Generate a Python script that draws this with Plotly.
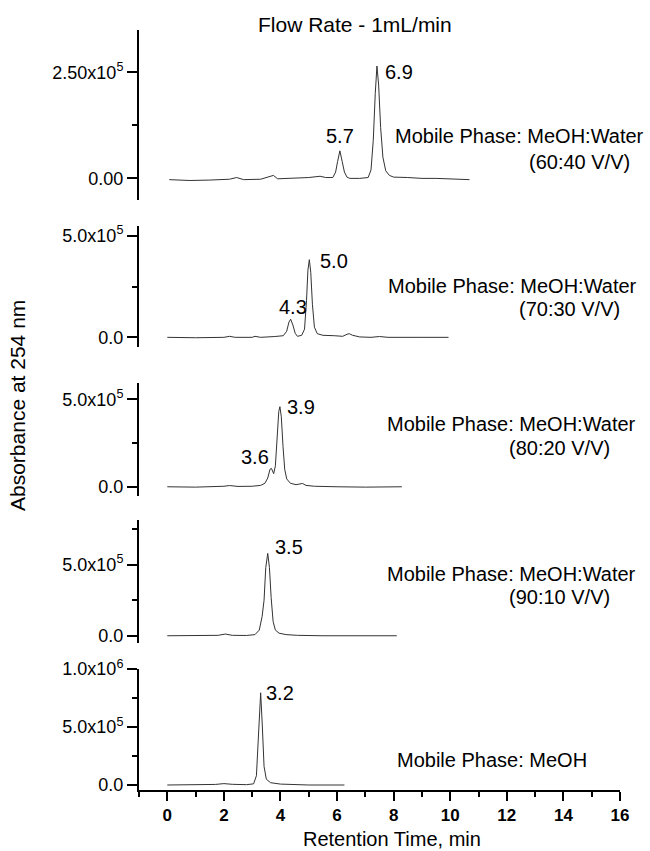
import plotly.graph_objects as go

# ---------------- data ----------------
# retention time (min) and absorbance for each chromatogram
t_6040 = [0.07, 0.8, 1.5, 2.2, 2.45, 2.7, 3.3, 3.6, 3.75, 3.9, 4.5, 5.0, 5.4, 5.6, 5.85,
          5.95, 6.02, 6.1, 6.18, 6.26, 6.35, 6.45, 6.8, 7.1, 7.2, 7.28, 7.35, 7.41, 7.47,
          7.54, 7.62, 7.72, 7.85, 8.0, 8.5, 9.0, 9.5, 10.0, 10.68]
a_6040 = [-3e3, -5e3, -4e3, -2e3, 2e3, -3e3, -2e3, 3e3, 7e3, -1e3, 0, 2e3, 5e3, 2e3, 2e3,
          15e3, 40e3, 65e3, 40e3, 15e3, 3e3, 0, 0, 2e3, 20e3, 90e3, 200e3, 265e3, 220e3,
          120e3, 50e3, 18e3, 7e3, 3e3, 2e3, 0, 0, -2e3, -3e3]

t_7030 = [0, 1, 2, 2.2, 2.4, 3.0, 3.1, 3.3, 3.8, 4.1, 4.22, 4.3, 4.36, 4.44, 4.52, 4.6,
          4.75, 4.85, 4.92, 4.97, 5.02, 5.07, 5.13, 5.2, 5.3, 5.5, 5.9, 6.2, 6.35, 6.43,
          6.55, 6.8, 7.2, 7.5, 7.8, 8.5, 9.0, 9.94]
a_7030 = [0, -2e3, 0, 5e3, 0, 0, 5e3, 0, 4e3, 8e3, 30e3, 75e3, 89e3, 60e3, 20e3, 5e3,
          10e3, 40e3, 180e3, 330e3, 382e3, 320e3, 160e3, 50e3, 18e3, 10e3, 8e3, 5e3, 15e3, 18e3,
          10e3, 2e3, 0, 4e3, 0, 2e3, 0, 0]

t_8020 = [0, 1, 2, 2.2, 2.5, 3.0, 3.3, 3.45, 3.55, 3.63, 3.68, 3.76, 3.82, 3.88, 3.94,
          3.98, 4.03, 4.09, 4.15, 4.22, 4.35, 4.55, 4.7, 4.78, 4.9, 5.2, 6.0, 7.0, 8.29]
a_8020 = [0, -2e3, 3e3, 7e3, 2e3, 3e3, 8e3, 20e3, 50e3, 100e3, 105e3, 75e3, 120e3, 300e3, 430e3,
          458e3, 400e3, 230e3, 100e3, 45e3, 20e3, 12e3, 18e3, 19e3, 8e3, 3e3, 0, -2e3, 0]

t_9010 = [0, 1, 1.8, 2.05, 2.3, 2.8, 3.1, 3.25, 3.35, 3.42, 3.48, 3.55, 3.61, 3.67, 3.74,
          3.82, 3.95, 4.2, 4.6, 5.5, 6.5, 8.11]
a_9010 = [0, 0, 3e3, 12e3, 3e3, 2e3, 8e3, 40e3, 134e3, 250e3, 480e3, 580e3, 480e3, 270e3, 100e3,
          40e3, 18e3, 8e3, 3e3, 0, 0, 0]

t_meoh = [0, 1, 1.7, 2.0, 2.3, 2.8, 3.05, 3.15, 3.22, 3.3, 3.36, 3.42, 3.5, 3.65, 4.0,
          4.5, 5.0, 6.26]
a_meoh = [0, 0, 5e3, 12e3, 6e3, 3e3, 10e3, 80e3, 400e3, 795e3, 500e3, 160e3, 50e3, 20e3, 8e3,
          3e3, 0, 0]

# peak labels: (label text, retention time of the labelled apex)
peaks_6040 = [("6.9", 7.41), ("5.7", 6.1)]
peaks_7030 = [("5.0", 5.02), ("4.3", 4.36)]
peaks_8020 = [("3.9", 3.98), ("3.6", 3.68)]
peaks_9010 = [("3.5", 3.55)]
peaks_meoh = [("3.2", 3.3)]

phase_labels = [["Mobile Phase: MeOH:Water", "(60:40 V/V)"],
                ["Mobile Phase: MeOH:Water", "(70:30 V/V)"],
                ["Mobile Phase: MeOH:Water", "(80:20 V/V)"],
                ["Mobile Phase: MeOH:Water", "(90:10 V/V)"],
                ["Mobile Phase: MeOH"]]

y_tickvals = [[0, 2.5e5], [0, 5e5], [0, 5e5], [0, 5e5], [0, 5e5, 1e6]]
y_ticktext = [["0.00", "2.50x10<sup>5</sup>"],
              ["0.0", "5.0x10<sup>5</sup>"],
              ["0.0", "5.0x10<sup>5</sup>"],
              ["0.0", "5.0x10<sup>5</sup>"],
              ["0.0", "5.0x10<sup>5</sup>", "1.0x10<sup>6</sup>"]]
y_minor = [[1.25e5], [2.5e5], [2.5e5], [2.5e5, 7.5e5], [2.5e5, 7.5e5]]

x_ticks = list(range(0, 17, 2))
x_minor = list(range(-1, 16, 2))

# ---------------- layout / styling ----------------
W, H = 650, 851
ML, MR, MT, MB = 139, 30, 30, 61
PW, PH = W - ML - MR, H - MT - MB
FONT = "Liberation Sans, Arial, sans-serif"

# panel pixel extents (top, bottom) and value ranges
panel_px = [(30, 200), (225.7, 347.3), (382.7, 495.7), (520, 643), (669, 790)]
y_ranges = [[-0.51e5, 3.5e5], [-0.49e5, 5.49e5], [-0.51e5, 5.95e5], [-0.51e5, 8.15e5], [-0.43e5, 1.0e6]]

# label offsets (px) from apex, per panel
label_shift = [[(22, -6), (0, 15)], [(25, -1), (2, 12)], [(21, 0), (-16, 11)], [(21, 6)], [(19, 0)]]
# phase label centres (px)
phase_pos = [[(519, 136), (579, 162)], [(512, 286), (569, 309)], [(511, 424), (559, 448)],
             [(511, 574), (559, 597)], [(492, 760)]]


def px2paper(px, py):
    return (px - ML) / PW, (H - MB - py) / PH


series = [(t_6040, a_6040, peaks_6040), (t_7030, a_7030, peaks_7030),
          (t_8020, a_8020, peaks_8020), (t_9010, a_9010, peaks_9010),
          (t_meoh, a_meoh, peaks_meoh)]

fig = go.Figure()
annotations = []
layout = dict(
    width=W, height=H,
    margin=dict(l=ML, r=MR, t=MT, b=MB),
    paper_bgcolor="white", plot_bgcolor="white",
    showlegend=False,
    font=dict(family=FONT, color="black", size=18),
)

for i, (t, a, peaks) in enumerate(series):
    k = i + 1
    yname = "y" if k == 1 else f"y{k}"
    fig.add_trace(go.Scatter(x=t, y=a, mode="lines", xaxis="x", yaxis=yname,
                             line=dict(color="#333333", width=1), hoverinfo="skip"))
    top, bot = panel_px[i]
    d0 = (H - MB - bot) / PH
    d1 = (H - MB - top) / PH
    layout["yaxis" if k == 1 else f"yaxis{k}"] = dict(
        domain=[max(0, d0), min(1, d1)], range=y_ranges[i], anchor="x",
        showline=True, linecolor="black", linewidth=2,
        ticks="outside", ticklen=10, tickwidth=2, tickcolor="black",
        tickvals=y_tickvals[i], ticktext=y_ticktext[i],
        tickfont=dict(family=FONT, size=18, color="black"),
        minor=dict(tickvals=y_minor[i], ticks="outside", ticklen=5, tickwidth=2, tickcolor="black"),
        showgrid=False, zeroline=False, fixedrange=True,
    )
    for (lab, pt), (dx, dy) in zip(peaks, label_shift[i]):
        j = min(range(len(t)), key=lambda n: abs(t[n] - pt))
        annotations.append(dict(x=t[j], y=a[j], xref="x", yref=yname, text=lab,
                                showarrow=False, xshift=dx, yshift=dy,
                                font=dict(family=FONT, size=20, color="black")))
    for txt, (cx, cy) in zip(phase_labels[i], phase_pos[i]):
        xp, yp = px2paper(cx, cy)
        annotations.append(dict(x=xp, y=yp, xref="paper", yref="paper", text=txt,
                                showarrow=False, xanchor="center", yanchor="middle",
                                font=dict(family=FONT, size=20, color="black")))

layout["xaxis"] = dict(
    range=[-1, 16], anchor="y5", domain=[0, 1],
    showline=True, linecolor="black", linewidth=2,
    ticks="outside", ticklen=9, tickwidth=2, tickcolor="black",
    tickvals=x_ticks, ticktext=[str(v) for v in x_ticks],
    tickfont=dict(family=FONT, size=17, color="black", weight="bold"),
    minor=dict(tickvals=x_minor, ticks="outside", ticklen=5, tickwidth=2, tickcolor="black"),
    showgrid=False, zeroline=False, fixedrange=True,
)

# titles
xp, yp = px2paper(355, 24)
annotations.append(dict(x=xp, y=yp, xref="paper", yref="paper", text="Flow Rate - 1mL/min",
                        showarrow=False, xanchor="center", yanchor="middle",
                        font=dict(family=FONT, size=21, color="black")))
xp, yp = px2paper(392, 839)
annotations.append(dict(x=xp, y=yp, xref="paper", yref="paper", text="Retention Time, min",
                        showarrow=False, xanchor="center", yanchor="middle",
                        font=dict(family=FONT, size=20, color="black")))
xp, yp = px2paper(17, 406)
annotations.append(dict(x=xp, y=yp, xref="paper", yref="paper", text="Absorbance at 254 nm",
                        showarrow=False, xanchor="center", yanchor="middle", textangle=-90,
                        font=dict(family=FONT, size=21, color="black")))

layout["annotations"] = annotations
fig.update_layout(**layout)
fig.write_html("out.html")
